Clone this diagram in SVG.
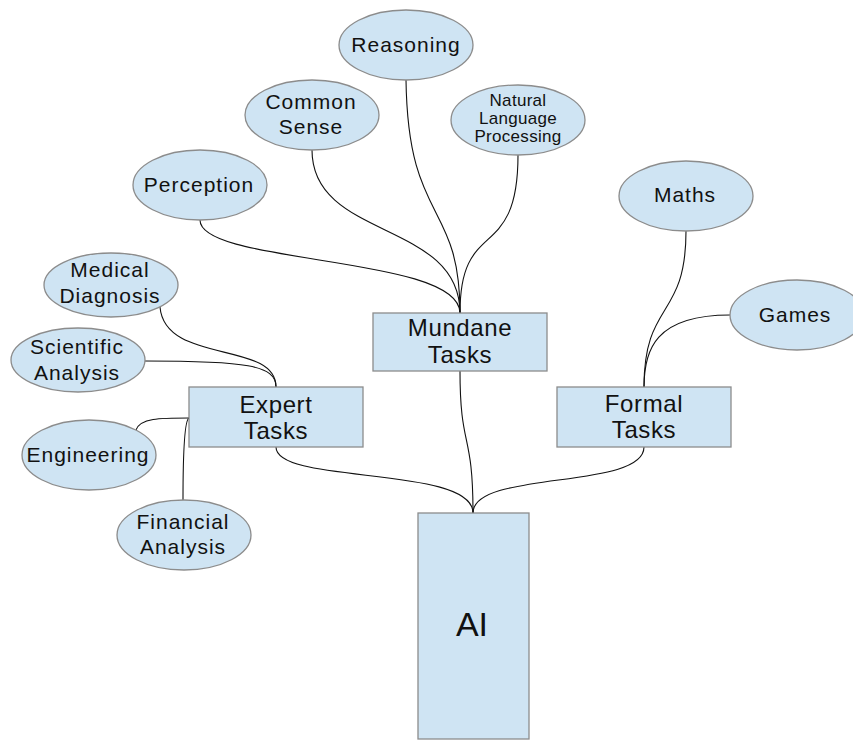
<svg xmlns="http://www.w3.org/2000/svg" width="853" height="740" viewBox="0 0 853 740">
<style>
.n{fill:#cfe4f3;stroke:#8c8c8c;stroke-width:1.3}
.c{fill:none;stroke:#111;stroke-width:1.1}
text{font-family:"Liberation Sans",Arial,sans-serif;fill:#111;text-anchor:middle}
.e{font-size:21px;letter-spacing:1px}
.s{font-size:17px;letter-spacing:0.3px}
.b{font-size:24px;letter-spacing:0.6px}
</style>
<rect width="853" height="740" fill="#fff"/>
<g id="connectors">
<path class="c" d="M200,220 C200,265 460,255 460,313"/>
<path class="c" d="M312,150 C312,240 460,220 460,313"/>
<path class="c" d="M406,80 C408,225 460,200 460,313"/>
<path class="c" d="M518,155 C518,265 460,215 460,313"/>
<path class="c" d="M460,371 C460,450 473,430 473,513"/>
<path class="c" d="M276,447 C276,485 473,465 473,513"/>
<path class="c" d="M644,447 C644,490 473,470 473,513"/>
<path class="c" d="M686,231 C686,320 644,300 644,387"/>
<path class="c" d="M730,315 C655,315 644,350 644,387"/>
<path class="c" d="M160,307 C165,365 276,340 276,387"/>
<path class="c" d="M145,361 C245,361 276,365 276,387"/>
<path class="c" d="M136,430 C140,418 160,418 189,418"/>
<path class="c" d="M183,500 C183,450 185,420 189,418"/>
</g>
<g id="ai"><rect class="n" x="418" y="513" width="111" height="226"/><text x="472" y="636" style="font-size:34px">AI</text></g>
<g id="mundane"><rect class="n" x="373" y="313" width="174" height="58"/><text class="b" x="460" y="336">Mundane</text><text class="b" x="460" y="363">Tasks</text></g>
<g id="expert"><rect class="n" x="189" y="387" width="174" height="60"/><text class="b" x="276" y="413">Expert</text><text class="b" x="276" y="439">Tasks</text></g>
<g id="formal"><rect class="n" x="557" y="387" width="174" height="60"/><text class="b" x="644" y="412">Formal</text><text class="b" x="644" y="438">Tasks</text></g>
<g id="reasoning"><ellipse class="n" cx="406" cy="45" rx="67" ry="35"/><text class="e" x="406" y="52">Reasoning</text></g>
<g id="common-sense"><ellipse class="n" cx="312" cy="115" rx="67" ry="35"/><text class="e" x="311" y="109">Common</text><text class="e" x="311" y="134">Sense</text></g>
<g id="nlp"><ellipse class="n" cx="518" cy="120" rx="67" ry="35"/><text class="s" x="518" y="106">Natural</text><text class="s" x="518" y="124">Language</text><text class="s" x="518" y="142">Processing</text></g>
<g id="perception"><ellipse class="n" cx="200" cy="185" rx="67" ry="35"/><text class="e" x="199" y="192">Perception</text></g>
<g id="maths"><ellipse class="n" cx="686" cy="196" rx="67" ry="35"/><text class="e" x="685" y="202">Maths</text></g>
<g id="games"><ellipse class="n" cx="797" cy="315" rx="67" ry="35"/><text class="e" x="795" y="322">Games</text></g>
<g id="medical"><ellipse class="n" cx="111" cy="285" rx="67" ry="32"/><text class="e" x="110" y="277">Medical</text><text class="e" x="110" y="303">Diagnosis</text></g>
<g id="scientific"><ellipse class="n" cx="78" cy="360" rx="67" ry="32"/><text class="e" x="77" y="354">Scientific</text><text class="e" x="77" y="380">Analysis</text></g>
<g id="engineering"><ellipse class="n" cx="89" cy="455" rx="67" ry="35"/><text class="e" x="88" y="462">Engineering</text></g>
<g id="financial"><ellipse class="n" cx="184" cy="535" rx="67" ry="35"/><text class="e" x="183" y="529">Financial</text><text class="e" x="183" y="554">Analysis</text></g>
</svg>
